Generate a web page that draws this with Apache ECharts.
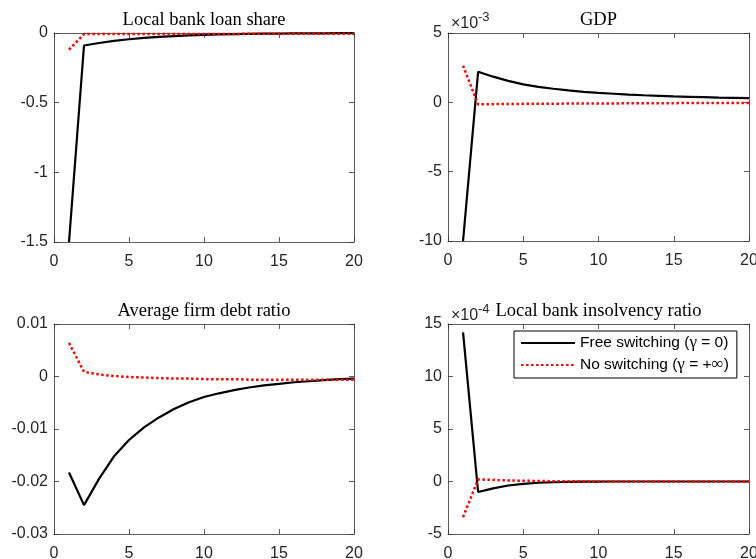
<!DOCTYPE html>
<html><head><meta charset="utf-8">
<script src="https://cdn.jsdelivr.net/npm/echarts@6/dist/echarts.min.js"></script>
<style>html,body{margin:0;padding:0;background:#fff}#c{width:756px;height:559px}</style>
</head><body><div id="c"></div>
<script>
// ---- data ----
const steps = [1,2,3,4,5,6,7,8,9,10,11,12,13,14,15,16,17,18,19,20];
const xTicks = [0,5,10,15,20];
const seriesNames = ['Free switching (γ = 0)', 'No switching (γ = +∞)'];
const panelTitles = ['Local bank loan share', 'GDP', 'Average firm debt ratio', 'Local bank insolvency ratio'];
const panelExponents = [null, '-3', null, '-4'];

const loanShareFree = [-1.5,-0.09,-0.072,-0.057,-0.045,-0.035,-0.028,-0.022,-0.017,-0.013,-0.010,-0.008,-0.0065,-0.005,-0.004,-0.003,-0.0025,-0.002,-0.0015,-0.001];
const loanShareNo   = [-0.12,-0.008,-0.007,-0.007,-0.007,-0.007,-0.007,-0.007,-0.007,-0.007,-0.0065,-0.0065,-0.006,-0.006,-0.006,-0.0055,-0.0055,-0.005,-0.005,-0.005];

// GDP in units of 1e-3
const gdpFree = [-10,2.2,1.85,1.55,1.3,1.12,0.98,0.86,0.76,0.68,0.62,0.56,0.51,0.47,0.43,0.40,0.37,0.34,0.32,0.30];
const gdpNo   = [2.65,-0.15,-0.13,-0.12,-0.11,-0.10,-0.10,-0.09,-0.09,-0.08,-0.08,-0.07,-0.07,-0.06,-0.06,-0.05,-0.05,-0.04,-0.04,-0.04];

const debtFree = [-0.0183,-0.0245,-0.0195,-0.0152,-0.0121,-0.0097,-0.0078,-0.0062,-0.0049,-0.0039,-0.0032,-0.0026,-0.0021,-0.0017,-0.0014,-0.0011,-0.0009,-0.0007,-0.0005,-0.0004];
const debtNo   = [0.0064,0.0009,0.0004,0.0001,-0.0001,-0.0002,-0.0003,-0.0004,-0.0004,-0.0005,-0.0005,-0.0005,-0.0006,-0.0006,-0.0006,-0.0006,-0.0006,-0.0006,-0.0006,-0.0006];

// insolvency in units of 1e-4
const insolvFree = [14.2,-1.0,-0.65,-0.38,-0.22,-0.12,-0.07,-0.04,-0.02,-0.01,0,0,0,0,0,0,0,0,0,0];
const insolvNo   = [-3.4,0.2,0.15,0.10,0.07,0.05,0.03,0.02,0.01,0.01,0,0,0,0,0,0,0,0,0,0];

const yTicks0 = [-1.5,-1,-0.5,0];
const yTicks1 = [-10,-5,0,5];
const yTicks2 = [-0.03,-0.02,-0.01,0,0.01];
const yTicks3 = [-5,0,5,10,15];

const panelData = [[loanShareFree, loanShareNo],[gdpFree, gdpNo],[debtFree, debtNo],[insolvFree, insolvNo]];
const panelYTicks = [yTicks0, yTicks1, yTicks2, yTicks3];

// ---- layout / style ----
const grids = [
  {left:54, top:33, width:300, height:209},
  {left:448, top:33, width:301, height:208},
  {left:54, top:324, width:300, height:210},
  {left:448, top:324, width:301, height:210}
];
const axisColor = '#333';
const labelFont = {color:'#262626', fontFamily:'Liberation Sans, Arial, sans-serif', fontSize:16};

const xAxes = [], yAxes = [], series = [], graphics = [];
grids.forEach((g, i) => {
  const xt = xTicks, yt = panelYTicks[i];
  const xInt = xt[1]-xt[0], yInt = +(yt[1]-yt[0]).toFixed(10);
  const base = {
    gridIndex:i, type:'value', splitLine:{show:false},
    axisLine:{show:true, onZero:false, lineStyle:{color:axisColor, width:0.8}},
    axisTick:{show:true, inside:true, length:5, lineStyle:{color:axisColor, width:0.8}}
  };
  xAxes.push(Object.assign({}, base, {position:'bottom', min:xt[0], max:xt[xt.length-1], interval:xInt,
    axisLabel:Object.assign({margin:12}, labelFont)}));
  xAxes.push(Object.assign({}, base, {position:'top', min:xt[0], max:xt[xt.length-1], interval:xInt,
    axisLabel:{show:false}}));
  yAxes.push(Object.assign({}, base, {position:'left', min:yt[0], max:yt[yt.length-1], interval:yInt,
    axisLabel:Object.assign({margin:6}, labelFont)}));
  yAxes.push(Object.assign({}, base, {position:'right', min:yt[0], max:yt[yt.length-1], interval:yInt,
    axisLabel:{show:false}}));
  const [free, none] = panelData[i];
  series.push({
    name:seriesNames[0], type:'line', xAxisIndex:2*i, yAxisIndex:2*i, symbol:'none', silent:true,
    itemStyle:{color:'#000'},
    lineStyle:{color:'#000', width:2.2, type:'solid'},
    data: steps.map((t,k)=>[t, free[k]])
  });
  series.push({
    name:seriesNames[1], type:'line', xAxisIndex:2*i, yAxisIndex:2*i, symbol:'none', silent:true,
    itemStyle:{color:'#ff0000'},
    lineStyle:{color:'#ff0000', width:2.5, type:[2.5,2.5]},
    data: steps.map((t,k)=>[t, none[k]])
  });
  const cx = g.left + g.width/2;
  graphics.push({type:'text', x:cx, y: i<2 ? 20 : 311.5, z:10,
    style:{text:panelTitles[i], align:'center', verticalAlign:'middle',
      font:'18.5px "Liberation Serif", "Times New Roman", serif', fill:'#000'}});
  if (panelExponents[i]) {
    const yy = i<2 ? 23.5 : 315.5;
    graphics.push({type:'text', x:g.left+3, y:yy, z:11,
      style:{text:'×10', align:'left', verticalAlign:'middle',
        font:'16px "Liberation Sans", Arial, sans-serif', fill:'#262626'}});
    graphics.push({type:'text', x:g.left+30, y:yy-6, z:11,
      style:{text:panelExponents[i], align:'left', verticalAlign:'middle',
        font:'13px "Liberation Sans", Arial, sans-serif', fill:'#262626'}});
  }
});

const chart = echarts.init(document.getElementById('c'), null, {renderer:'canvas'});
chart.setOption({
  animation:false,
  backgroundColor:'#fff',
  grid: grids.map(g => Object.assign({containLabel:false, outerBoundsMode:'none'}, g)),
  xAxis: xAxes,
  yAxis: yAxes,
  series: series,
  legend: {
    data: seriesNames, left:514, top:331, orient:'vertical',
    padding:[3,8,4,6], itemGap:4, itemWidth:54, itemHeight:14,
    backgroundColor:'#fff', borderColor:'#000', borderWidth:1, borderRadius:0,
    selectedMode:false, z:20,
    itemStyle:{opacity:0},
    formatter: n => n.replace('γ','{g|γ}').replace('∞','{g|∞}'),
    textStyle: {color:'#000', fontFamily:'Liberation Sans, Arial, sans-serif', fontSize:15.5, lineHeight:18,
      rich:{g:{fontFamily:'Liberation Serif, serif', fontSize:17, color:'#000', lineHeight:18}}}
  },
  graphic: graphics
});
</script></body></html>
